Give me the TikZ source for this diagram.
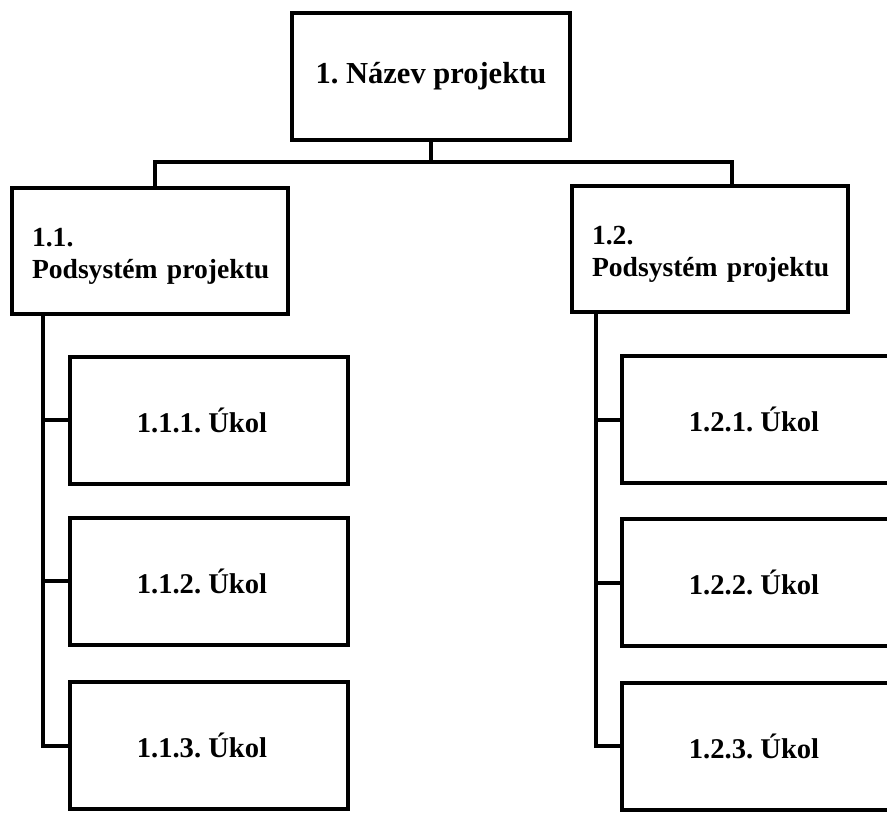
\documentclass[tikz,border=0pt]{standalone}
\usepackage{fontspec}
\setmainfont{Liberation Serif}
\frenchspacing
\begin{document}
\begin{tikzpicture}[x=1pt,y=-1pt,
  box/.style={draw=black,line width=4pt,fill=white,inner sep=0pt,font=\bfseries},
  titlebox/.style={box,minimum width=278pt,minimum height=127pt,font=\bfseries\fontsize{30.5}{36}\selectfont},
  subbox/.style={box,minimum height=126pt,text width=236pt,inner xsep=20pt,align=left,font=\bfseries\fontsize{27.6}{32}\selectfont},
  taskbox/.style={box,minimum width=278pt,minimum height=127pt,font=\bfseries\fontsize{28.6}{34}\selectfont},
  conn/.style={draw=black,line width=4pt}]
\useasboundingbox (0,0) rectangle (887,812);
\clip (0,0) rectangle (887,812);
\fill[white] (0,0) rectangle (887,812);

\node[titlebox] (top) at (431,76.5) {\frenchspacing 1. Název projektu};
\node[subbox] (s1) at (150,251) {\frenchspacing\rule{0pt}{29pt}1.1.\\\mbox{Podsystém projektu}};
\node[subbox] (s2) at (710,248.5) {\frenchspacing\rule{0pt}{29pt}1.2.\\\mbox{Podsystém projektu}};

\node[taskbox] (t111) at (209,420) {\frenchspacing\hspace*{-14pt}1.1.1. Úkol};
\node[taskbox] (t112) at (209,581) {\frenchspacing\hspace*{-14pt}1.1.2. Úkol};
\node[taskbox] (t113) at (209,745.5) {\frenchspacing\hspace*{-14pt}1.1.3. Úkol};
\node[taskbox] (t121) at (761,419.5) {\frenchspacing\hspace*{-14pt}1.2.1. Úkol};
\node[taskbox] (t122) at (761,582.5) {\frenchspacing\hspace*{-14pt}1.2.2. Úkol};
\node[taskbox] (t123) at (761,746) {\frenchspacing\hspace*{-14pt}1.2.3. Úkol};

\coordinate (bl) at (155,162);
\coordinate (br) at (732,162);
\coordinate (sl) at (43,0);
\coordinate (sr) at (596,0);

\draw[conn] (top.south) -- (top.south |- bl);
\draw[conn,line join=miter] (s1.north -| bl) -- (bl) -- (br) -- (s2.north -| br);

\draw[conn,line join=miter] (s1.south -| sl) -- (t113.west -| sl) -- (t113.west);
\draw[conn] (t111.west -| sl) -- (t111.west);
\draw[conn] (t112.west -| sl) -- (t112.west);

\draw[conn,line join=miter] (s2.south -| sr) -- (t123.west -| sr) -- (t123.west);
\draw[conn] (t121.west -| sr) -- (t121.west);
\draw[conn] (t122.west -| sr) -- (t122.west);
\end{tikzpicture}
\end{document}
